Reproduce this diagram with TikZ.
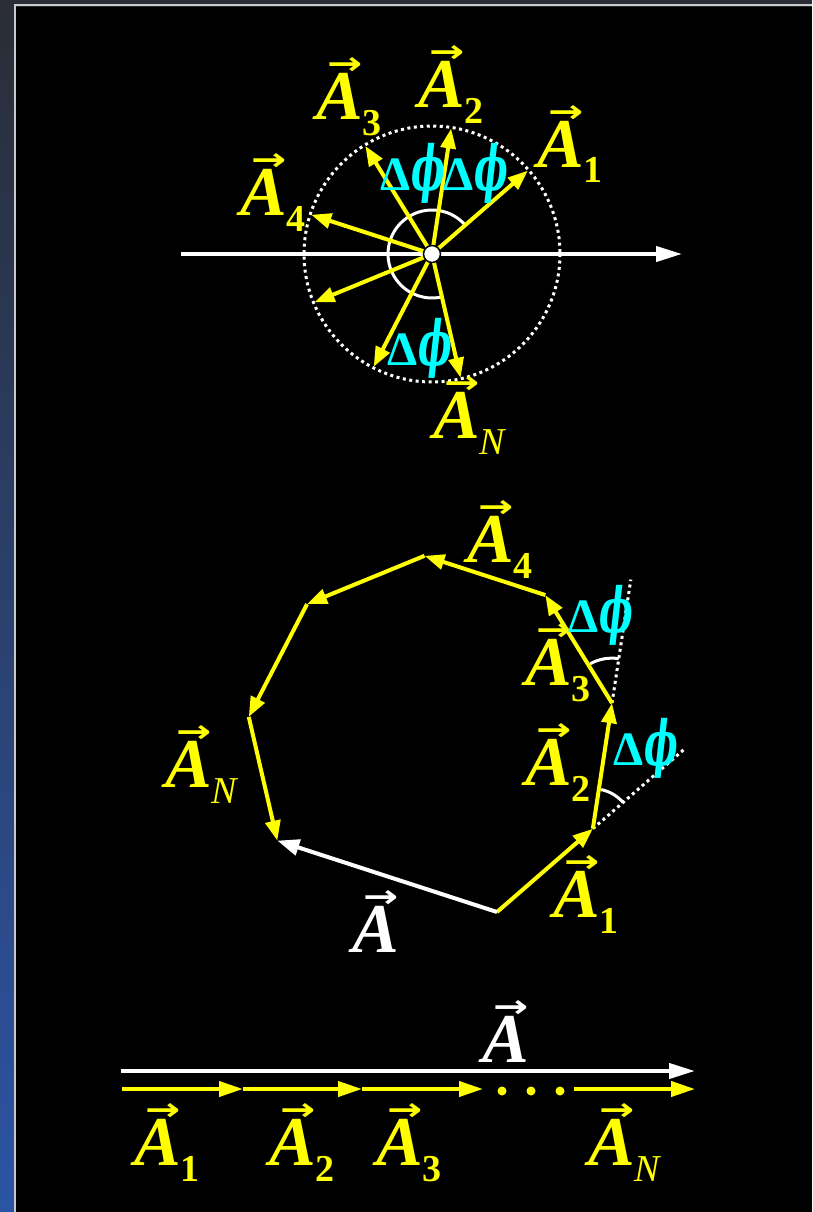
\documentclass[tikz,border=0pt]{standalone}
\usepackage{graphicx}
\usepackage{fontspec}
\setmainfont{Liberation Serif}
\newfontfamily\phifont{DejaVu Serif}
\newfontfamily\arrfont{DejaVu Sans}
\usetikzlibrary{arrows.meta,calc}
\definecolor{vy}{RGB}{255,255,0}
\definecolor{vc}{RGB}{0,255,255}
\definecolor{bgdark}{RGB}{42,45,53}
\definecolor{bgblue}{RGB}{43,84,165}
\definecolor{rimgray}{RGB}{200,200,205}
\newcommand\VA[1]{\makebox[0pt][l]{\hspace{11pt}\raisebox{45pt}{\scalebox{1.4}[1.05]{\arrfont\bfseries\fontsize{30}{30}\selectfont →}}}{\bfseries\itshape A}\raisebox{-16pt}{\fontsize{38}{38}\selectfont #1}}
\newcommand\DP{{\bfseries Δ}\kern1pt\scalebox{0.78}[1.35]{\phifont\bfseries\itshape\fontsize{46}{46}\selectfont ϕ}}
\begin{document}
\begin{tikzpicture}[x=1pt,y=-1pt,
  yv/.style={draw=vy, line width=4pt, -{Triangle[length=20pt,width=15pt]}},
  wv/.style={draw=white, line width=4pt, -{Triangle[length=22pt,width=16pt]}},
  arcw/.style={draw=white, line width=3pt},
  dotw/.style={draw=white, line width=3pt, dash pattern=on 3pt off 3.5pt},
  lab/.style={anchor=base west, inner sep=0pt, text=vy, font=\fontsize{70}{70}\selectfont},
  wlab/.style={lab, text=white},
  dlab/.style={anchor=base west, inner sep=0pt, text=vc, font=\fontsize{48}{48}\selectfont},
  dot/.style={circle, fill=vy, inner sep=0pt, minimum size=9pt}]
\useasboundingbox (0,0) rectangle (812,1212);
% background
\fill[bgdark] (0,0) rectangle (812,1212);
\shade[top color=bgdark, bottom color=bgblue] (0,0) rectangle (14,1212);
\fill[black] (16,7) rectangle (812,1212);
\draw[rimgray, line width=2pt] (14.5,1212) -- (14.5,5.5) -- (812,5.5);

% ---------- top: phasors from a common origin ----------
\coordinate (C) at (432,254);
\coordinate (axL) at (181,254);
\coordinate (axR) at (682,254);
\draw[wv, -{Triangle[length=26pt,width=15pt]}] (axL) -- (axR);
\draw[dotw] (C) circle[radius=128];
\draw[arcw] ($(C)+(-41:44)$) arc[start angle=-41, end angle=-283, radius=44];
\foreach \a/\n in {41/t1, 81.33/t2, 121.67/t3, 162/t4, 202.33/t5, 242.67/t6, 283/t7}
  \coordinate (\n) at ($(C)+(-\a:127)$);
\foreach \n in {t1,t2,t3,t4,t5,t6,t7}
  \draw[yv] (C) -- (\n);
\node[circle, fill=white, draw=black, line width=1.5pt, minimum size=17pt, inner sep=0pt] (O) at (C) {};
\node[lab] (tA1) at (537,167) {\VA{\bfseries 1}};
\node[lab] (tA2) at (418,108) {\VA{\bfseries 2}};
\node[lab] (tA3) at (316,120) {\VA{\bfseries 3}};
\node[lab] (tA4) at (240,215) {\VA{\bfseries 4}};
\node[lab] (tAN) at (433,438) {\VA{\itshape N}};
\node[dlab] (td1) at (380,190) {\DP};
\node[dlab] (td2) at (443,190) {\DP};
\node[dlab] (td3) at (387,365) {\DP};

% ---------- middle: head-to-tail polygon ----------
\coordinate (m0) at (497,912);
\coordinate (m1) at ($(m0)+(-41:127)$);
\coordinate (m2) at ($(m1)+(-81.33:127)$);
\coordinate (m3) at ($(m2)+(-121.67:127)$);
\coordinate (m4) at ($(m3)+(-162:127)$);
\coordinate (m5) at ($(m4)+(-202.33:127)$);
\coordinate (m6) at ($(m5)+(-242.67:127)$);
\coordinate (m7) at ($(m6)+(-283:127)$);
\coordinate (e1) at ($(m1)+(-41:120)$);
\coordinate (e2) at ($(m2)+(-81.33:125)$);
\draw[dotw] (m1) -- (e1);
\draw[dotw] (m2) -- (e2);
\draw[arcw] ($(m1)+(-41:40)$) arc[start angle=-41, end angle=-78, radius=40];
\draw[arcw] ($(m2)+(-81.33:45)$) arc[start angle=-81.33, end angle=-119, radius=45];
\draw[yv] (m0) -- (m1);
\draw[yv] (m1) -- (m2);
\draw[yv] (m2) -- (m3);
\draw[yv] (m3) -- (m4);
\draw[yv] (m4) -- (m5);
\draw[yv] (m5) -- (m6);
\draw[yv] (m6) -- (m7);
\draw[wv] (m0) -- (m7);
\node[lab] (mA1) at (553,917) {\VA{\bfseries 1}};
\node[lab] (mA2) at (525,785) {\VA{\bfseries 2}};
\node[lab] (mA3) at (525,685) {\VA{\bfseries 3}};
\node[lab] (mA4) at (467,562) {\VA{\bfseries 4}};
\node[lab] (mAN) at (165,787) {\VA{\itshape N}};
\node[wlab] (mA) at (352,952) {\VA{}};
\node[dlab] (md1) at (568,632) {\DP};
\node[dlab] (md2) at (613,765) {\DP};

% ---------- bottom: all in phase ----------
\coordinate (wL) at (121,1071);
\coordinate (wR) at (695,1071);
\draw[wv, -{Triangle[length=26pt,width=15pt]}] (wL) -- (wR);
\coordinate (b0) at (122,1089);
\coordinate (b1) at (243,1089);
\coordinate (b2) at (362,1089);
\coordinate (b3) at (483,1089);
\coordinate (b4) at (574,1089);
\coordinate (b5) at (695,1089);
\draw[yv, -{Triangle[length=24pt,width=15pt]}] (b0) -- (b1);
\draw[yv, -{Triangle[length=24pt,width=15pt]}] (b1) -- (b2);
\draw[yv, -{Triangle[length=24pt,width=15pt]}] (b2) -- (b3);
\draw[yv, -{Triangle[length=24pt,width=15pt]}] (b4) -- (b5);
\node[dot] (d1) at (502,1091) {};
\node[dot] (d2) at (531,1091) {};
\node[dot] (d3) at (560,1091) {};
\node[wlab] (bA) at (482,1062) {\VA{}};
\node[lab] (bA1) at (134,1165) {\VA{\bfseries 1}};
\node[lab] (bA2) at (269,1165) {\VA{\bfseries 2}};
\node[lab] (bA3) at (376,1165) {\VA{\bfseries 3}};
\node[lab] (bAN) at (588,1165) {\VA{\itshape N}};
\end{tikzpicture}
\end{document}
